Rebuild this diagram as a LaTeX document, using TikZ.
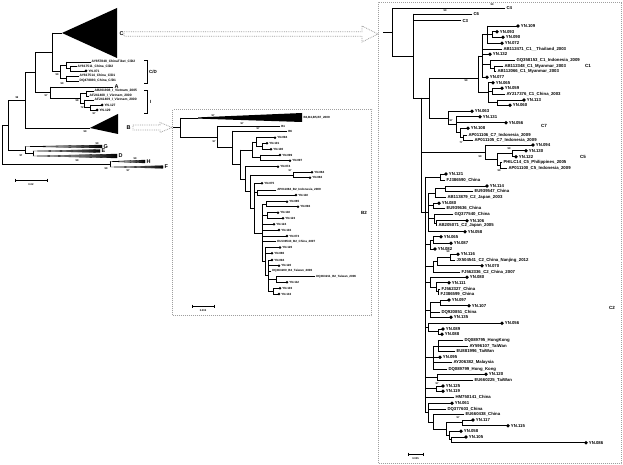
\documentclass[tikz,border=0pt]{standalone}
\usepackage{fontspec}
\setmainfont{Liberation Sans}
\tikzset{
  br/.style={line width=0.75pt, line cap=rect},
  brr/.style={line width=0.9pt, line cap=rect},
  tipL/.style={anchor=west, inner sep=0.3pt, font=\fontsize{3.3}{4}\selectfont\bfseries},
  tipM/.style={anchor=west, inner sep=0.3pt, font=\fontsize{3.0}{4}\selectfont\bfseries},
  tipR/.style={anchor=west, inner sep=0.3pt, font=\fontsize{4.3}{5}\selectfont\bfseries},
  boot/.style={inner sep=0pt, font=\fontsize{2.6}{3}\selectfont\bfseries},
  clade/.style={anchor=west, inner sep=0.4pt, font=\fontsize{5.5}{6}\selectfont\bfseries},
  cladeR/.style={anchor=west, inner sep=0pt, font=\fontsize{4.5}{5}\selectfont\bfseries},
  panel/.style={draw=gray!75, densely dotted, line width=1pt, anchor=north west, inner sep=0pt},
  fatarrow/.style={draw=gray!75, densely dotted, line width=0.8pt, fill=white},
  wedge/.style={left color=white, right color=black, draw=black, line width=0.3pt},
  sbar/.style={line width=0.6pt},
}

\begin{document}
\begin{tikzpicture}[x=1pt, y=-1pt]
  \fill[white] (0,0) rectangle (623,465);
  \useasboundingbox (0,0) rectangle (623,465);

  % panels
  \node[panel, minimum width=199pt, minimum height=206pt] (boxB) at (172,109) {};
  \node[panel, minimum width=243pt, minimum height=461pt] (boxR) at (378,2) {};

  %% ---------- whole tree (left) ----------
  \foreach \x/\ya/\yb in {2/125.2/164, 8/100.3/150, 25/72.6/128, 35/52.4/92.8,
      52/33/71.75, 60/65.4/78.5, 66/62/68.75, 70/66.5/71, 66/76/81,
      50/87/98.6, 80/93.5/103.75, 86/91/96, 84/100/107.5, 90/105/110,
      25/146.5/153.5, 33/151/156, 110/161.5/167}
    \draw[br] (\x,\ya) -- (\x,\yb);
  \foreach \xa/\xb/\y in {2/8/125.2, 2/110/164, 8/25/100.3, 8/25/150, 25/35/72.6,
      25/90/128, 35/52/52.4, 35/50/92.8, 52/62/33, 52/60/71.75, 60/66/65.4,
      66/70/68.75, 60/66/78.5, 50/80/98.6, 80/86/93.5, 80/84/103.75,
      84/90/107.5, 25/33/153.5, 50/113/87}
    \draw[br] (\xa,\y) -- (\xb,\y);

  % collapsed clades
  \fill (62,33) -- (117,8) -- (117,58) -- cycle;
  \fill (90,128) -- (118,114) -- (118,134) -- cycle;
  \foreach \xa/\xb/\y/\h in {25/102/146.5/1.5, 33/100/151/1.5, 33/117/156/2,
      110/145/161.5/1.5, 110/163/167/1.3}
    \shade[wedge] (\xa,\y) -- (\xb,\y-\h) -- (\xb,\y+\h) -- cycle;

  \node[clade] (lC) at (119,34) {C};
  \node[clade] (lB) at (126,128) {B};
  \node[clade] (lA) at (114,87) {A};
  \node[clade] (lG) at (103,146.5) {G};
  \node[clade] (lE) at (101,151) {E};
  \node[clade] (lD) at (118,156) {D};
  \node[clade] (lH) at (146,161.5) {H};
  \node[clade] (lF) at (164,167) {F};

  % leaves
  \draw[br] (66,62) -- (91,62) node[tipL, name=l1] {AY857848\_ChinaTibet\_C/D2};
  \draw[br] (70,66.5) -- (77,66.5) node[tipL, name=l2] {AY817511\_China\_C/D2};
  \draw[br] (66,76) -- (79,76) node[tipL, name=l3] {AY817514\_China\_C/D1};
  \draw[br] (66,81) -- (79,81) node[tipL, name=l4] {DQ478893\_China\_C/D1};
  \draw[br] (86,91) -- (94,91) node[tipL, name=l5] {AB201908\_I\_Vietnam\_2005};
  \draw[br] (86,96) -- (89,96) node[tipL, name=l6] {AF241408\_I\_Vietnam\_2000};
  \draw[br] (84,100) -- (94,100) node[tipL, name=l7] {AF241409\_I\_Vietnam\_2000};
  \foreach \xa/\xb/\y/\lab [count=\i] in {70/86/71/YN.071, 90/102/105/YN.127, 90/97/110/YN.129}{
    \draw[br] (\xa,\y) -- (\xb,\y);
    \fill (\xb,\y) circle (1.5pt);
    \node[tipL] (ly\i) at (\xb+2,\y) {\lab};
  }
  \draw[line width=0.5pt] (144,60) -- (147,60) -- (147,83) -- (144,83);
  \node[cladeR] (lCD) at (149,71.5) {C/D};
  \draw[line width=0.5pt] (144,90) -- (147,90) -- (147,113) -- (144,113);
  \node[cladeR] (lI) at (150,101.5) {I};

  \foreach \x/\y/\v [count=\i] in {17/97.5/99, 46/95.8/97, 57/75/99, 62/84/99,
      77/101/98, 82/108/72, 94/113.5/97, 85/131.5/99, 97/143.5/99, 21/156/97,
      77/160.5/99, 135/158.5/99, 106/169/99, 128/171/97}
    \node[boot] (lb\i) at (\x,\y) {\v};

  \draw[sbar] (15,180) -- (47,180);
  \draw[sbar] (15,178.5) -- (15,181.5);
  \draw[sbar] (47,178.5) -- (47,181.5);
  \node[boot] (ls) at (31,184.5) {0.02};

  % hollow arrows
  \coordinate (ca) at (124,34);
  \draw[fatarrow] (ca) ++(0,-2.2) -- ++(238,0) -- ++(0,-5.8) -- ++(16,8)
    -- ++(-16,8) -- ++(0,-5.8) -- ++(-238,0) -- cycle;
  \coordinate (cb) at (133,127.5);
  \draw[fatarrow] (cb) ++(0,-2.5) -- ++(27,0) -- ++(0,-2.5) -- ++(12,5)
    -- ++(-12,5) -- ++(0,-2.5) -- ++(-27,0) -- cycle;

  %% ---------- genotype B (middle) ----------
  \foreach \x/\ya/\yb in {180/118/136.9, 217/126/147.8, 232/131/164.5,
      240/149.9/179.1, 252/142/157.85, 256/137.7/146.3, 262/143.3/149.3,
      260/155/160.7, 245/166.7/191.5, 250/175/208.1, 293/172.3/177.7,
      254/183.3/232.9, 257/190/195, 262/204.2/261.5, 266/201.7/206.7,
      267/212.7/218.3, 265/247.5/275.6, 268/260/291.15, 276/276.7/282.3,
      273/288.3/294}
    \draw[br] (\x,\ya) -- (\x,\yb);
  \foreach \xa/\xb/\y in {173/180/127.5, 180/198/118, 180/217/136.9,
      217/232/147.8, 232/240/164.5, 240/252/149.9, 252/256/142, 256/262/146.3,
      252/260/157.85, 240/245/179.1, 245/250/191.5, 250/293/175, 250/254/208.1,
      254/257/192.5, 254/262/232.9, 262/266/204.2, 262/267/215.5,
      262/265/261.5, 265/268/275.6, 268/276/279.5, 268/273/291.15}
    \draw[br] (\xa,\y) -- (\xb,\y);
  \fill (198,117.4) -- (302,113) -- (302,122) -- (198,118.6) -- cycle;
  \node[tipM] (mw) at (303,117.5) {B3,B4,B5,B7\_2009};

  \foreach \xa/\xb/\y/\lab [count=\i] in {217/280/126/B1, 232/287/131/B6,
      257/276/190/AP011084\_B2\_Indonesia\_2009, 262/276/241.7/EU139543\_B2\_China\_2007,
      268/271/271/DQ463200\_B2\_Taiwan\_2006, 276/315/276.7/DQ463211\_B2\_Taiwan\_2006}{
    \draw[br] (\xa,\y) -- (\xb,\y);
    \node[tipM] (mr\i) at (\xb+0.8,\y) {\lab};
  }
  \foreach \xa/\xb/\y/\lab [count=\i] in {256/275/137.7/YN.094, 262/267/143.3/YN.101,
      262/271/149.3/YN.100, 260/280/155/YN.099, 260/290/160.7/YN.097,
      245/278/166.7/YN.074, 293/312/172.3/YN.084, 293/310/177.7/YN.082,
      254/262/183.3/YN.075, 257/296/195/YN.110, 266/287/201.7/YN.085,
      266/298/206.7/YN.092, 267/278/212.7/YN.118, 267/283/218.3/YN.123,
      262/274/224.3/YN.124, 262/279/230/YN.102, 262/287/236/YN.073,
      265/280/247.5/YN.126, 265/272/253.3/YN.086, 268/272/260/YN.094,
      268/279/265.7/YN.120, 276/287/282.3/YN.112, 273/280/288.3/YN.103,
      273/279/294/YN.133}{
    \draw[br] (\xa,\y) -- (\xb,\y);
    \fill (\xb,\y) circle (1.4pt);
    \node[tipM] (my\i) at (\xb+1.8,\y) {\lab};
  }
  \foreach \x/\y/\v [count=\i] in {213/115.5/97, 242/123.5/97, 258/128.5/97,
      214/142/97, 290/170.5/97}
    \node[boot] (mb\i) at (\x,\y) {\v};
  \node[cladeR] (mB2) at (361,213) {B2};
  \draw[sbar] (192,306) -- (214,306);
  \draw[sbar] (192,304.5) -- (192,307.5);
  \draw[sbar] (214,304.5) -- (214,307.5);
  \node[boot] (ms) at (203,310.5) {0.002};

  %% ---------- genotype C (right) ----------
  \foreach \x/\ya/\yb in {392/8.3/56, 413/14/98, 421/98/212, 429/78/118,
      478/56/92.7, 482/34.65/77.3, 487/26/43.3, 492/31.7/37.3, 490/60.3/68.85,
      494/66/71.7, 488/82.7/102.65, 492/88.3/94.3, 497/100/105.3,
      448/111.3/124.8, 456/116.7/132.9, 460/128.3/137.5, 463/135/140,
      485/145/159.6, 497/153.7/165.5, 512/150.7/156.7, 500/162.7/168.3,
      425/177/412.6, 440/174/180, 428/193/231.7, 435/188.85/197.3,
      445/186/191.7, 433/203.3/208.3, 434/214.3/223.2, 436/220.7/225.7,
      430/240/249, 433/236.7/243.3, 433/261.5/272.3, 437/257.2/265.7,
      450/254.3/260, 430/277.3/287.3, 436/282.7/291.85, 438/289/294.7,
      430/302.85/317.3, 440/300/305.7, 428/323.3/331.65, 438/329/334.3,
      433/346.2/369, 438/340.7/351.7, 437/374.3/380.7, 436/386/391.3,
      428/403.3/422, 433/414.7/429.2, 446/422.85/435.6, 462/420/425.7,
      449/431.3/439.85, 451/437/442.7}
    \draw[brr] (\x,\ya) -- (\x,\yb);
  \foreach \xa/\xb/\y in {383/392/32, 392/413/56, 413/421/98, 421/429/98,
      429/478/78, 478/482/56, 482/487/34.65, 487/492/34.5, 482/490/64.6,
      490/494/68.85, 478/488/92.7, 488/492/91.3, 488/497/102.65, 429/448/118,
      448/456/124.8, 456/460/132.9, 460/463/137.5, 421/485/152.3,
      485/497/159.6, 497/512/153.7, 497/500/165.5, 421/425/212, 425/440/177,
      425/428/212.4, 428/435/193, 435/445/188.85, 428/433/205.8,
      428/434/218.75, 434/436/223.2, 425/430/244.5, 430/433/240,
      425/433/266.9, 433/437/261.5, 437/450/257.2, 425/430/282.3,
      430/436/287.3, 436/438/291.85, 425/430/310, 430/440/302.85,
      425/428/327.5, 428/438/331.65, 425/433/357.6, 433/438/346.2,
      425/437/377.5, 425/436/388.65, 425/428/412.6, 428/433/422,
      433/446/429.2, 446/462/422.85, 446/449/435.6, 449/451/439.85}
    \draw[brr] (\xa,\y) -- (\xb,\y);

  \foreach \xa/\xb/\y/\lab [count=\i] in {392/505/8.3/C4, 413/472/14/C6, 413/461/20.7/C3,
      482/502/49/AB112471\_C1\_\_Thailand\_2003, 490/515/60.3/GQ358153\_C1\_Indonesia\_2009,
      494/503/66/AB112348\_C1\_Myanmar\_2003, 494/496/71.7/AB112066\_C1\_Myanmar\_2003,
      492/505/94.3/AY217376\_C1\_China\_2003, 463/467/135/AP011106\_C7\_Indonesia\_2009,
      463/473/140/AP011105\_C7\_Indonesia\_2009, 500/502/162.7/PHILC14\_C5\_Philippines\_2005,
      500/507/168.3/AP011100\_C5\_Indonesia\_2009, 440/445/180/FJ386590\_China,
      445/473/191.7/EU939547\_China, 435/446/197.3/AB113879\_C2\_Japan\_2003,
      433/445/208.3/EU939636\_China, 434/453/214.3/GQ377540\_China,
      436/437/225.7/AB205071\_C2\_Japan\_2005, 450/455/260/JX504541\_C2\_China\_Nanjing\_2012,
      433/460/272.3/FJ562336\_C2\_China\_2007, 438/440/289/FJ562327\_China,
      438/439/294.7/FJ386599\_China, 430/440/312/DQ920851\_China,
      438/463/340.7/DQ089795\_HongKong, 438/468/346/AY596107\_TaiWan,
      438/455/351.7/EU881996\_TaiWan, 433/452/362.7/AY206382\_Malaysia,
      433/447/369/DQ089799\_Hong\_Kong, 437/473/380.7/EU660225\_TaiWan,
      425/454/397.3/HM750141\_China, 428/446/409/DQ377603\_China,
      433/464/414.7/EU660438\_China}{
    \draw[brr] (\xa,\y) -- (\xb,\y);
    \node[tipR] (rr\i) at (\xb+1,\y) {\lab};
  }
  \foreach \xa/\xb/\y/\lab [count=\i] in {487/518/26/YN.109, 492/497/31.7/YN.093,
      492/503/37.3/YN.090, 487/502/43.3/YN.072, 482/490/54.3/YN.132,
      482/487/77.3/YN.077, 488/493/82.7/YN.065, 492/502/88.3/YN.059,
      497/524/100/YN.113, 497/510/105.3/YN.060, 448/472/111.3/YN.063,
      456/480/116.7/YN.131, 456/506/122.7/YN.056, 460/468/128.3/YN.108,
      485/533/145/YN.094, 512/526/150.7/YN.130, 512/516/156.7/YN.122,
      440/446/174/YN.121, 445/487/186/YN.114, 433/439/203.3/YN.080,
      436/467/220.7/YN.106, 428/465/231.7/YN.058, 433/441/236.7/YN.065,
      433/451/243.3/YN.087, 430/435/249/YN.082, 450/458/254.3/YN.116,
      437/482/265.7/YN.070, 430/467/277.3/YN.080, 436/449/282.7/YN.111,
      440/449/300/YN.097, 440/469/305.7/YN.107, 430/451/317.3/YN.135,
      428/502/323.3/YN.056, 438/443/329/YN.089, 438/442/334.3/YN.088,
      433/440/357.3/YN.095, 437/486/374.3/YN.120, 436/443/386/YN.125,
      436/443/391.3/YN.119, 428/452/403.3/YN.061, 462/473/420/YN.117,
      462/508/425.7/YN.115, 449/461/431.3/YN.058, 451/466/437/YN.105,
      451/586/442.7/YN.086}{
    \draw[brr] (\xa,\y) -- (\xb,\y);
    \fill (\xb,\y) circle (1.9pt);
    \node[tipR] (ry\i) at (\xb+2.4,\y) {\lab};
  }
  \foreach \x/\y/\v [count=\i] in {492/4.5/99, 445/11/99, 466/80.5/99,
      451/121/97, 461/143/77, 509/149/99, 480/157/99, 499/171/99,
      448/252/99, 437/383.5/97, 458/418/97}
    \node[boot] (rb\i) at (\x,\y) {\v};
  \node[cladeR] (rC1) at (585,66) {C1};
  \node[cladeR] (rC7) at (541,126) {C7};
  \node[cladeR] (rC5) at (580,157) {C5};
  \node[cladeR] (rC2) at (609,308) {C2};

  \draw[sbar] (408,454) -- (423,454);
  \draw[sbar] (408,452.5) -- (408,455.5);
  \draw[sbar] (423,452.5) -- (423,455.5);
  \node[boot] (rs) at (415.5,459) {0.005};
\end{tikzpicture}
\end{document}
